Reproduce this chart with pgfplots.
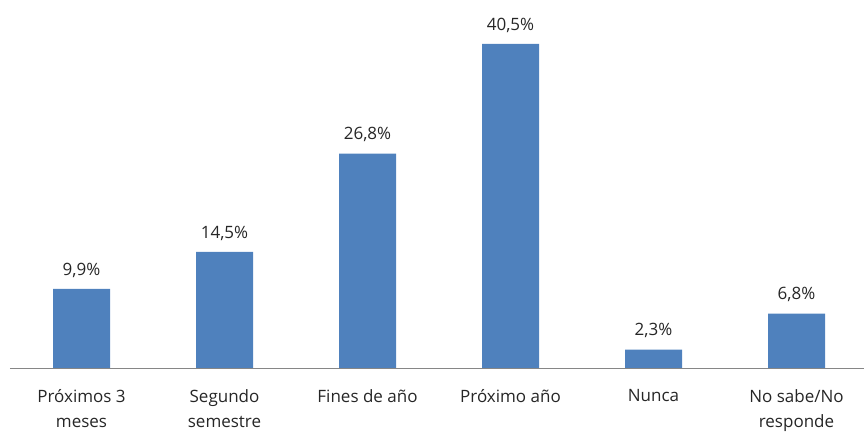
\documentclass[border=0pt]{standalone}
\usepackage{pgfplots}
\pgfplotsset{compat=1.18}
\usepackage{fontspec}
\setmainfont{Open Sans}
\definecolor{barblue}{HTML}{4F81BD}
\definecolor{axgray}{HTML}{868686}
\begin{document}
\begin{tikzpicture}[x=1pt,y=1pt]
\path[use as bounding box] (0,0) rectangle (864,435);
\begin{axis}[
  at={(10pt,67pt)}, anchor=south west,
  scale only axis, width=854pt, height=368pt,
  xmin=-0.5, xmax=5.472, ymin=0, ymax=46.0,
  axis x line=bottom, axis y line=none,
  axis line style={axgray, line width=0.8pt, -},
  x axis line style={-},
  xtick={0,1,2,3,4,5},
  xticklabels={Próximos 3\\meses, Segundo\\semestre, Fines de año, Próximo año, Nunca, No sabe/No\\responde},
  xticklabel style={align=center, font=\fontsize{17}{25}\selectfont, anchor=north, yshift=-18pt, text=black!85},
  major tick length=0pt,
  ytick=\empty,
  clip=false,
  /pgf/number format/assume math mode=true,
  nodes near coords={\pgfmathprintnumber[fixed,precision=1,fixed zerofill,use comma,assume math mode=true]{\pgfplotspointmeta}\%},
  every node near coord/.append style={font=\fontsize{17}{20}\selectfont, text=black!85, yshift=8pt},
]
\addplot[ybar, bar width=57pt, fill=barblue, draw=none] coordinates {
(0,9.9) (1,14.5) (2,26.8) (3,40.5) (4,2.3) (5,6.8)
};
\end{axis}
\end{tikzpicture}
\end{document}
